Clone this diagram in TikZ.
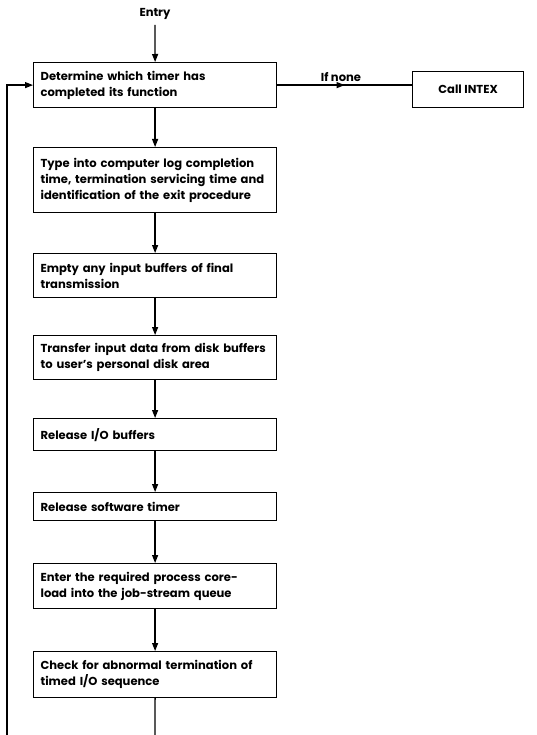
\documentclass[tikz,border=0pt]{standalone}
\usepackage{fontspec}
\setmainfont{Poppins}
\usetikzlibrary{arrows.meta,decorations.markings}
\begin{document}
\begin{tikzpicture}[x=1bp,y=-1bp,
  txt/.style={font=\fontsize{11.6}{16}\selectfont\bfseries},
  box/.style={draw, line width=1.2bp, rectangle, anchor=north west,
    minimum width=243bp, text width=229bp, align=left, inner xsep=7bp, inner ysep=4bp, txt},
  flow/.style={line width=1.3bp, -{Triangle[length=8bp,width=6bp]}},
  plain/.style={line width=1.3bp},
  midarrow/.style={line width=1.3bp, decoration={markings,
    mark=at position 0.5 with {\arrow{Triangle[length=8bp,width=6bp]}}},
    postaction={decorate}}]
\useasboundingbox (0,0) rectangle (537,735);

% main chain of steps
\node[box, minimum height=45bp] (b1) at (33,62)
  {Determine which timer has\\completed its function};
\node[box, minimum height=65bp] (b2) at (33,147)
  {Type into computer log completion\\time, termination servicing time and\\identification of the exit procedure};
\node[box, minimum height=44bp] (b3) at (33,253)
  {Empty any input buffers of final\\transmission};
\node[box, minimum height=44bp] (b4) at (33,335)
  {Transfer input data from disk buffers\\to user's personal disk area};
\node[box, minimum height=32bp] (b5) at (33,418)
  {Release I/O buffers};
\node[box, minimum height=28bp] (b6) at (33,492)
  {Release software timer};
\node[box, minimum height=45bp] (b7) at (33,563)
  {Enter the required process core-\\load into the job-stream queue};
\node[box, minimum height=46bp] (b8) at (33,651)
  {Check for abnormal termination of\\timed I/O sequence};

% exit branch
\node[draw, line width=1.2bp, anchor=north west, minimum width=111bp,
  minimum height=36bp, txt] (intex) at (412,71) {Call INTEX};

% labels
\node[txt] (entry) at (155,14) {Entry};
\node[txt] (ifnone) at (341,77) {If none};

\coordinate (entrytail) at (155,25);
\coordinate (bottom) at (155,735);
\coordinate (loopfoot) at (7,735);

% connectors
\draw[flow] (entrytail) -- (b1.north);
\draw[flow] (b1.south) -- (b2.north);
\draw[flow] (b2.south) -- (b3.north);
\draw[flow] (b3.south) -- (b4.north);
\draw[flow] (b4.south) -- (b5.north);
\draw[flow] (b5.south) -- (b6.north);
\draw[flow] (b6.south) -- (b7.north);
\draw[flow] (b7.south) -- (b8.north);
\draw[plain] (b8.south) -- (bottom);
\draw[midarrow] (b1.east) -- (b1.east -| intex.west);
\draw[flow] (loopfoot) |- (b1.west);
\end{tikzpicture}
\end{document}
